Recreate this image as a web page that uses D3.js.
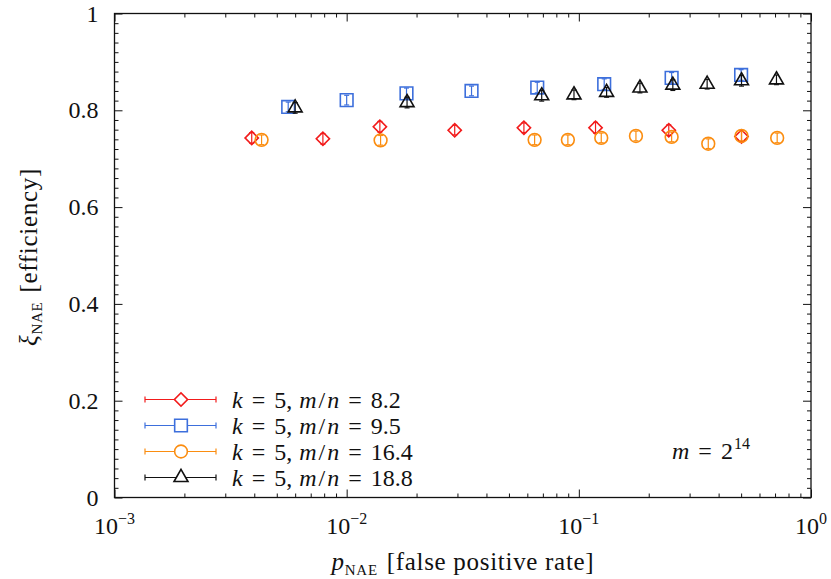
<!DOCTYPE html>
<html>
<head>
<meta charset="utf-8">
<script src="https://cdn.jsdelivr.net/npm/d3@7"></script>
<style>
  body { margin: 0; background: #fff; }
</style>
</head>
<body>
<svg id="chart" width="831" height="579"></svg>
<script>
// ---- data: false positive rate p_NAE and efficiency xi_NAE (with error) ----
const seriesNames = ["8.2", "9.5", "16.4", "18.8"];

const pRed   = [0.0039, 0.0079, 0.0139, 0.0292, 0.0580, 0.118, 0.244, 0.502];
const xiRed  = [0.743, 0.741, 0.766, 0.759, 0.764, 0.764, 0.759, 0.746];
const errRed = [0.011, 0.011, 0.011, 0.010, 0.010, 0.011, 0.011, 0.011];

const pBlue   = [0.0056, 0.0100, 0.0181, 0.0345, 0.0662, 0.1286, 0.251, 0.500];
const xiBlue  = [0.807, 0.821, 0.835, 0.840, 0.847, 0.854, 0.867, 0.873];
const errBlue = [0.010, 0.010, 0.011, 0.010, 0.011, 0.011, 0.011, 0.011];

const pOrange   = [0.0043, 0.0140, 0.0645, 0.0897, 0.1249, 0.1762, 0.251, 0.361, 0.502, 0.715];
const xiOrange  = [0.739, 0.738, 0.739, 0.739, 0.743, 0.747, 0.745, 0.731, 0.747, 0.743];
const errOrange = [0.010, 0.010, 0.010, 0.010, 0.010, 0.010, 0.010, 0.010, 0.010, 0.010];

const pBlack   = [0.0060, 0.0182, 0.0692, 0.0953, 0.1317, 0.1833, 0.254, 0.357, 0.502, 0.710];
const xiBlack  = [0.805, 0.816, 0.830, 0.832, 0.837, 0.846, 0.852, 0.854, 0.861, 0.863];
const errBlack = [0.011, 0.011, 0.011, 0.010, 0.010, 0.010, 0.011, 0.010, 0.011, 0.010];

const xMajorTicks = [1e-3, 1e-2, 1e-1, 1];
const xTickExponents = ["\u22123", "\u22122", "\u22121", "0"];
const yMajorTicks = [0, 0.2, 0.4, 0.6, 0.8, 1];
const yTickLabels = ["0", "0.2", "0.4", "0.6", "0.8", "1"];

// ---- layout ----
const svg = d3.select("#chart");
const serif = '"Liberation Serif"';
const plotL = 114.5, plotR = 811, plotT = 13.5, plotB = 497.5;

const x = d3.scaleLog().domain([1e-3, 1]).range([plotL, plotR]);
const y = d3.scaleLinear().domain([0, 1]).range([plotB, plotT]);

const xMinor = [];
for (let e = -3; e < 0; e++) for (let m = 2; m <= 9; m++) xMinor.push(m * Math.pow(10, e));
const yMinor = d3.range(0, 50).map(i => i * 0.02).filter(v => Math.abs(v * 5 - Math.round(v * 5)) > 1e-6);

const series = [
  { p: pRed,    xi: xiRed,    err: errRed,    color: "#f21b1b", shape: "diamond" },
  { p: pBlue,   xi: xiBlue,   err: errBlue,   color: "#3d6fdc", shape: "square" },
  { p: pOrange, xi: xiOrange, err: errOrange, color: "#fb8d10", shape: "circle" },
  { p: pBlack,  xi: xiBlack,  err: errBlack,  color: "#111111", shape: "triangle" }
];

function markerPath(shape) {
  if (shape === "diamond") return d3.symbol(d3.symbolSquare, 88)();
  if (shape === "square") return d3.symbol(d3.symbolSquare, 160)();
  if (shape === "circle") return d3.symbol(d3.symbolCircle, 128)();
  return d3.symbol(d3.symbolTriangle, 84)();
}
function markerTransform(shape, cx, cy) {
  return shape === "diamond" ? `translate(${cx},${cy}) rotate(45)` : `translate(${cx},${cy})`;
}

// rich text helper: parts are [string, options]
function richText(sel, parts) {
  parts.forEach(([str, o = {}]) => {
    const ts = sel.append("tspan").text(str);
    if (o.it) ts.style("font-style", "italic");
    if (o.fs) ts.style("font-size", o.fs + "px");
    if (o.dy) ts.attr("dy", o.dy);
    if (o.dx) ts.attr("dx", o.dx);
  });
  return sel;
}
function addText(xp, yp, size, anchor) {
  return svg.append("text").attr("x", xp).attr("y", yp)
    .style("font-family", serif).style("font-size", size + "px")
    .attr("text-anchor", anchor).attr("fill", "#111");
}

// ---- axes with inward ticks on all four sides ----
function tickLayer(axisGen, tx, ty) {
  const g = svg.append("g").attr("transform", `translate(${tx},${ty})`).call(axisGen);
  g.select(".domain").remove();
  g.selectAll("line").attr("stroke", "#111").attr("stroke-width", 1);
  g.selectAll("text").remove();
  return g;
}
const maj = 8, mnr = 4;
tickLayer(d3.axisBottom(x).tickValues(xMajorTicks).tickSize(-maj).tickSizeOuter(0), 0, plotB);
tickLayer(d3.axisBottom(x).tickValues(xMinor).tickSize(-mnr).tickSizeOuter(0), 0, plotB);
tickLayer(d3.axisTop(x).tickValues(xMajorTicks).tickSize(-maj).tickSizeOuter(0), 0, plotT);
tickLayer(d3.axisTop(x).tickValues(xMinor).tickSize(-mnr).tickSizeOuter(0), 0, plotT);
tickLayer(d3.axisLeft(y).tickValues(yMajorTicks).tickSize(-maj).tickSizeOuter(0), plotL, 0);
tickLayer(d3.axisLeft(y).tickValues(yMinor).tickSize(-mnr).tickSizeOuter(0), plotL, 0);
tickLayer(d3.axisRight(y).tickValues(yMajorTicks).tickSize(-maj).tickSizeOuter(0), plotR, 0);
tickLayer(d3.axisRight(y).tickValues(yMinor).tickSize(-mnr).tickSizeOuter(0), plotR, 0);

svg.append("rect")
  .attr("x", plotL).attr("y", plotT)
  .attr("width", plotR - plotL).attr("height", plotB - plotT)
  .attr("fill", "none").attr("stroke", "#111").attr("stroke-width", 1.3);

// ---- tick labels ----
const FS = 24;
yMajorTicks.forEach((v, i) => addText(plotL - 16, y(v) + 8, FS, "end").text(yTickLabels[i]));

xMajorTicks.forEach((v, i) => {
  richText(addText(x(v), plotB + 36, FS, "middle"),
    [["10"], [xTickExponents[i], { fs: 16, dy: -10 }]]);
});

// ---- axis titles ----
richText(addText(463, 570, 25, "middle").style("letter-spacing", "0.7px"),
  [["p", { it: true }], ["NAE", { fs: 15, dy: 5 }], [" [false positive rate]", { dy: -5, dx: 2 }]]);

richText(addText(0, 0, 25, "middle").style("letter-spacing", "0.7px")
    .attr("transform", "translate(37,257) rotate(-90)"),
  [["\u03BE", { it: true }], ["NAE", { fs: 15, dy: 5 }], [" [efficiency]", { dy: -5, dx: 2 }]]);

// ---- data marks ----
const plot = svg.append("g");
series.forEach(s => {
  const pts = s.p.map((p, i) => ({ p, v: s.xi[i], e: s.err[i] }));
  const g = plot.append("g").attr("stroke", s.color).attr("fill", "none");
  // error bars
  g.selectAll("line.eb").data(pts).join("line").attr("class", "eb")
    .attr("x1", d => x(d.p)).attr("x2", d => x(d.p))
    .attr("y1", d => y(d.v - d.e)).attr("y2", d => y(d.v + d.e))
    .attr("stroke-width", 1.2);
  ["lo", "hi"].forEach(k => {
    g.selectAll("line.cap" + k).data(pts).join("line").attr("class", "cap" + k)
      .attr("x1", d => x(d.p) - 2.5).attr("x2", d => x(d.p) + 2.5)
      .attr("y1", d => y(k === "lo" ? d.v - d.e : d.v + d.e))
      .attr("y2", d => y(k === "lo" ? d.v - d.e : d.v + d.e))
      .attr("stroke-width", 1.2);
  });
  // markers
  g.selectAll("path").data(pts).join("path")
    .attr("d", markerPath(s.shape))
    .attr("transform", d => markerTransform(s.shape, x(d.p), y(d.v)))
    .attr("stroke-width", 1.6);
});

// ---- legend ----
const legY0 = 399.5, legDy = 26;
series.forEach((s, i) => {
  const cy = legY0 + i * legDy;
  const g = svg.append("g").attr("stroke", s.color).attr("fill", "none");
  g.append("line").attr("x1", 145).attr("x2", 216).attr("y1", cy).attr("y2", cy).attr("stroke-width", 1.2);
  [145, 216].forEach(cx => g.append("line").attr("x1", cx).attr("x2", cx)
    .attr("y1", cy - 3).attr("y2", cy + 3).attr("stroke-width", 1.2));
  g.append("path").attr("d", markerPath(s.shape))
    .attr("transform", markerTransform(s.shape, 181, cy)).attr("fill", "#fff").attr("stroke-width", 1.6);

  richText(addText(232, cy + 8, FS, "start"), [
    ["k", { it: true }], ["=", { dx: 9 }], ["5,", { dx: 9 }], ["m", { it: true, dx: 7 }],
    ["/", { dx: 2 }], ["n", { it: true, dx: 2 }], ["=", { dx: 9 }], [seriesNames[i], { dx: 9 }]
  ]);
});

// ---- annotation ----
richText(addText(672, 459, FS, "start"),
  [["m", { it: true }], ["=", { dx: 9 }], ["2", { dx: 9 }], ["14", { fs: 16, dy: -10, dx: 1 }]]);
</script>
</body>
</html>
